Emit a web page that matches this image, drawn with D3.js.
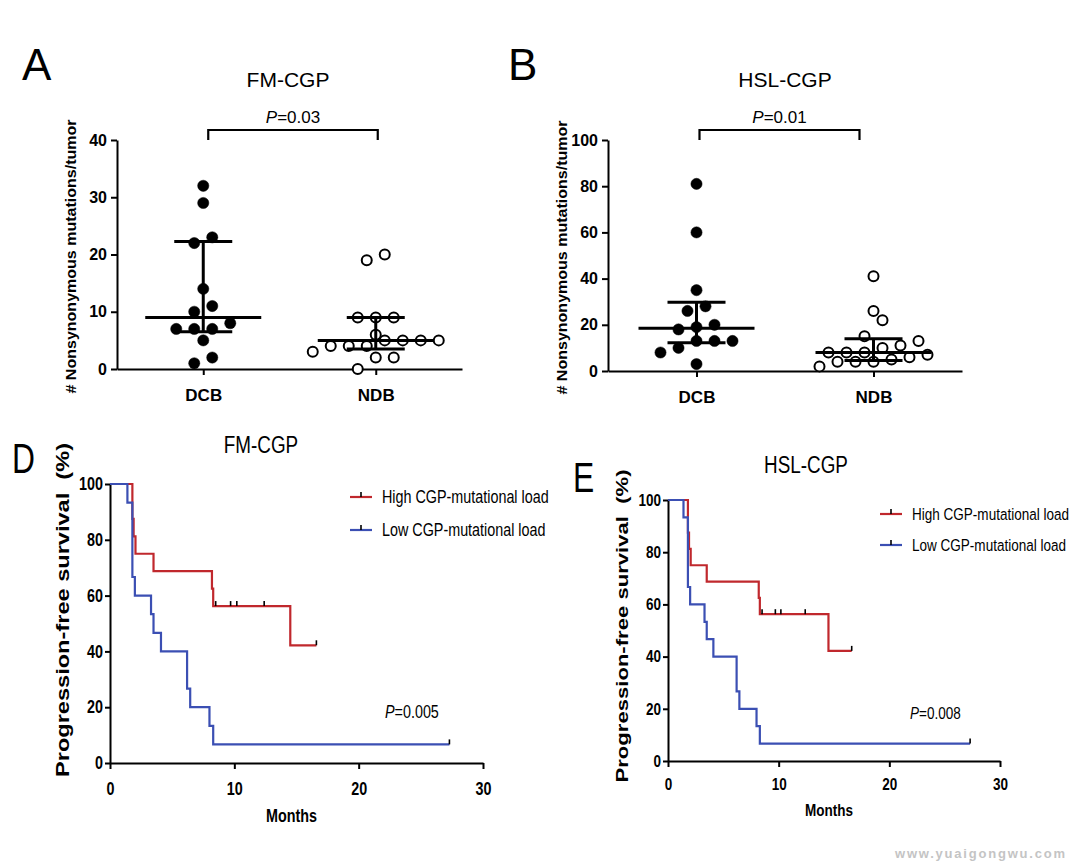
<!DOCTYPE html>
<meta charset="utf-8">
<style>
body { margin: 0; background: #fff; }
svg { display: block; font-family: "Liberation Sans", Arial, sans-serif; }
.axis path, .axis line { stroke: #000; stroke-width: 2px; }
.axis text { fill: #000; font-family: "Liberation Sans", Arial, sans-serif; }
</style>
<body>
<script src="https://d3js.org/d3.v7.min.js"></script>
<script>

// ---- panels A / B : nonsynonymous mutations per tumor ----
var groups = ["DCB", "NDB"];
var fmDCB  = [32, 29, 23, 22, 14, 11, 10, 8, 7, 7, 7, 5, 2, 1];
var fmNDB  = [20, 19, 9, 9, 9, 6, 5, 5, 5, 5, 4, 4, 4, 3, 2, 2, 0];
var hslDCB = [81, 60, 35, 28, 26, 20, 19, 18, 13, 13, 13, 10, 8, 3];
var hslNDB = [41, 26, 22, 15, 13, 11, 10, 8, 8, 8, 7, 6, 5, 4, 4, 4, 2];
var fmTicks  = [0, 10, 20, 30, 40];
var hslTicks = [0, 20, 40, 60, 80, 100];

// ---- panels D / E : Kaplan-Meier steps (months, % progression-free) ----
var highTime   = [0, 1.8, 1.9, 2.05, 3.5, 8.2, 8.3, 14.5, 16.6];
var highSurv   = [100, 87.5, 81.25, 75, 68.75, 62.5, 56.25, 42.19, 42.19];
var highCensor = [8.5, 9.7, 10.2, 12.4, 16.6];
var lowTime    = [0, 1.4, 1.8, 2.0, 3.3, 3.5, 4.1, 6.2, 6.45, 8.0, 8.3, 27.3];
var lowSurv    = [100, 93.33, 66.67, 60, 53.33, 46.67, 40, 26.67, 20, 13.33, 6.67, 6.67];
var lowCensor  = [27.3];
var monthTicks = [0, 10, 20, 30];
var survTicks  = [0, 20, 40, 60, 80, 100];

var RED = "#c0282d", BLUE = "#3b4fb3";
var NARROW = 0.82;

var svg = d3.select("body").append("svg")
    .attr("width", 1072)
    .attr("height", 866);

// text helper, optionally squeezed horizontally (narrow face)
function label(x, y, str, size, sx, opts) {
  opts = opts || {};
  var t = svg.append("text")
      .attr("transform", "translate(" + x + "," + y + ")" + (opts.rotate ? " rotate(" + opts.rotate + ")" : "") + " scale(" + sx + ",1)")
      .attr("font-size", size)
      .attr("text-anchor", opts.anchor || "start")
      .attr("font-weight", opts.bold ? "bold" : "normal")
      .style("white-space", "pre")
      .text(str);
  if (opts.len) t.attr("textLength", opts.len).attr("lengthAdjust", "spacingAndGlyphs");
  return t;
}

function pLabel(x, y, val, size, sx, anchor) {
  var t = label(x, y, "", size, sx, {anchor: anchor});
  t.append("tspan").attr("font-style", "italic").text("P");
  t.append("tspan").text("=" + val);
}

// GraphPad-style quantile, position p*(n+1)
function gpQuantile(s, p) {
  var pos = p * (s.length + 1), lo = Math.floor(pos), f = pos - lo;
  if (lo < 1) return s[0];
  if (lo >= s.length) return s[s.length - 1];
  return s[lo - 1] + f * (s[lo] - s[lo - 1]);
}

function dotPanel(cfg) {
  var x = d3.scalePoint().domain(groups).range(cfg.xr).padding(0.5);
  var y = d3.scaleLinear().domain([0, d3.max(cfg.ticks)]).range(cfg.yr);

  var ya = svg.append("g").attr("class", "axis")
      .attr("transform", "translate(" + cfg.xr[0] + ",0)")
      .call(d3.axisLeft(y).tickValues(cfg.ticks).tickSize(6).tickSizeOuter(0).tickPadding(4));
  ya.selectAll("text").attr("font-size", 16).attr("font-weight", "bold");

  var xa = svg.append("g").attr("class", "axis")
      .attr("transform", "translate(0," + cfg.yr[0] + ")")
      .call(d3.axisBottom(x).tickSize(6).tickSizeOuter(0).tickPadding(14));
  xa.selectAll("text").attr("font-size", 17).attr("font-weight", "bold");

  cfg.series.forEach(function(vals, i) {
    var cx = x(groups[i]);
    var s = vals.slice().sort(d3.ascending);
    // spread points that fall in the same height band
    var pts = [];
    d3.group(s, function(v) { return Math.floor((cfg.yr[0] - y(v)) / 17); })
      .forEach(function(arr) {
        arr.forEach(function(v, j) { pts.push({v: v, dx: (j - (arr.length - 1) / 2) * 18}); });
      });
    var open = i === 1;
    svg.append("g").selectAll("circle").data(pts).enter().append("circle")
        .attr("cx", function(d) { return cx + d.dx; })
        .attr("cy", function(d) { return y(d.v); })
        .attr("r", open ? 5 : 5.6)
        .attr("fill", open ? "#fff" : "#000")
        .attr("stroke", "#000")
        .attr("stroke-width", open ? 2 : 0.5);

    var med = d3.median(s), q1 = gpQuantile(s, 0.25), q3 = gpQuantile(s, 0.75);
    var eb = svg.append("g").attr("stroke", "#000").attr("stroke-width", 3);
    eb.append("line").attr("x1", cx - 58).attr("x2", cx + 58).attr("y1", y(med)).attr("y2", y(med));
    eb.append("line").attr("x1", cx).attr("x2", cx).attr("y1", y(q1)).attr("y2", y(q3));
    [q1, q3].forEach(function(q) {
      eb.append("line").attr("x1", cx - 29).attr("x2", cx + 29).attr("y1", y(q)).attr("y2", y(q));
    });
  });

  // significance bracket
  var bx0 = x(groups[0]) + cfg.br[0], bx1 = x(groups[1]) + cfg.br[1];
  svg.append("path")
      .attr("d", "M" + bx0 + ",140V130H" + bx1 + "V140")
      .attr("fill", "none").attr("stroke", "#000").attr("stroke-width", 2.2);
  pLabel((bx0 + bx1) / 2, 123, cfg.p, 17, 1, "middle");

  label(cfg.title[0], 87, cfg.title[2], 21, 1, {anchor: "middle"});
  label(cfg.letter[0], 80, cfg.letter[1], 44, 1);
  label(cfg.ylab, (cfg.yr[0] + cfg.yr[1]) / 2 + 2, "# Nonsynonymous mutations/tumor", 15.5, 1,
        {rotate: -90, anchor: "middle", bold: true, len: 274});
}

function survAt(times, surv, t) {
  return surv[d3.bisectRight(times, t) - 1];
}

function kmPanel(cfg) {
  var x = d3.scaleLinear().domain([0, 30]).range(cfg.xr);
  var y = d3.scaleLinear().domain([0, 100]).range(cfg.yr);
  var line = d3.line()
      .x(function(d) { return x(d[0]); })
      .y(function(d) { return y(d[1]); })
      .curve(d3.curveStepAfter);

  var ya = svg.append("g").attr("class", "axis")
      .attr("transform", "translate(" + cfg.xr[0] + ",0)")
      .call(d3.axisLeft(y).tickValues(survTicks).tickSize(5).tickSizeOuter(0).tickPadding(2));
  var xa = svg.append("g").attr("class", "axis")
      .attr("transform", "translate(0," + cfg.yr[0] + ")")
      .call(d3.axisBottom(x).tickValues(monthTicks).tickSize(6).tickSizeOuter(0).tickPadding(cfg.xpad));
  [ya, xa].forEach(function(a) {
    a.selectAll("text")
        .attr("font-size", cfg.fs).attr("font-weight", "bold")
        .attr("x", function() { return +this.getAttribute("x") / NARROW; })
        .attr("transform", "scale(" + NARROW + ",1)");
  });

  var curves = [
    {t: highTime, s: highSurv, c: highCensor, col: RED},
    {t: lowTime,  s: lowSurv,  c: lowCensor,  col: BLUE}
  ];
  curves.forEach(function(g) {
    svg.append("path")
        .datum(d3.zip(g.t, g.s))
        .attr("d", line)
        .attr("fill", "none").attr("stroke", g.col).attr("stroke-width", 2.2);
    svg.append("g").selectAll("line").data(g.c).enter().append("line")
        .attr("x1", function(d) { return x(d); })
        .attr("x2", function(d) { return x(d); })
        .attr("y1", function(d) { return y(survAt(g.t, g.s, d)); })
        .attr("y2", function(d) { return y(survAt(g.t, g.s, d)) - 5; })
        .attr("stroke", "#000").attr("stroke-width", 1.6);
  });

  // legend
  [["High CGP-mutational load", RED], ["Low CGP-mutational load", BLUE]].forEach(function(d, i) {
    var ly = cfg.leg[1] + i * cfg.leg[2];
    svg.append("line").attr("x1", cfg.leg[0]).attr("x2", cfg.leg[0] + 22)
        .attr("y1", ly).attr("y2", ly).attr("stroke", d[1]).attr("stroke-width", 2.2);
    svg.append("line").attr("x1", cfg.leg[0] + 11).attr("x2", cfg.leg[0] + 11)
        .attr("y1", ly).attr("y2", ly - 5).attr("stroke", "#000").attr("stroke-width", 1.6);
    label(cfg.leg[0] + 32, ly + 6, d[0], cfg.legFs, NARROW);
  });

  pLabel(cfg.pPos[0], cfg.pPos[1], cfg.p, cfg.legFs, NARROW, "start");
  label(cfg.title[0], cfg.title[1], cfg.title[2], 23, NARROW, {anchor: "middle"});
  label(cfg.letter[0], cfg.letter[1], cfg.letter[2], 43, 0.74);
  label((cfg.xr[0] + cfg.xr[1]) / 2 - 5, cfg.months, "Months", cfg.fs, NARROW, {anchor: "middle", bold: true});
  label(cfg.ylab[0], cfg.ylab[1], "Progression-free survival\u00a0\u00a0(%)", cfg.ylab[2], 1,
        {rotate: -90, anchor: "middle", bold: true, len: cfg.ylab[3]});
}

dotPanel({xr: [117, 462], yr: [369, 140], ticks: fmTicks, series: [fmDCB, fmNDB],
          br: [5, 2], p: "0.03", title: [288, 87, "FM-CGP"], letter: [22, "A"], ylab: 76});
dotPanel({xr: [608, 962], yr: [371, 140], ticks: hslTicks, series: [hslDCB, hslNDB],
          br: [3, -14], p: "0.01", title: [785, 87, "HSL-CGP"], letter: [508, "B"], ylab: 567});

kmPanel({xr: [110, 483], yr: [763, 484], fs: 17.5, xpad: 14, legFs: 17.5,
         leg: [350, 497, 33], pPos: [385, 718], p: "0.005",
         title: [261, 453, "FM-CGP"], letter: [12, 473, "D"], months: 822,
         ylab: [69, 610, 18, 334]});
kmPanel({xr: [668, 1000], yr: [761, 500], fs: 16.5, xpad: 11, legFs: 16.5,
         leg: [880, 514, 31], pPos: [910, 719], p: "0.008",
         title: [806, 473, "HSL-CGP"], letter: [573, 492, "E"], months: 816,
         ylab: [628, 626, 17, 313]});

// watermark
svg.append("text")
    .attr("x", 895).attr("y", 858)
    .attr("font-size", 13).attr("font-weight", "bold")
    .attr("fill", "#c4c4c4")
    .attr("textLength", 170).attr("lengthAdjust", "spacing")
    .text("www.yuaigongwu.com");

</script>
</body>
